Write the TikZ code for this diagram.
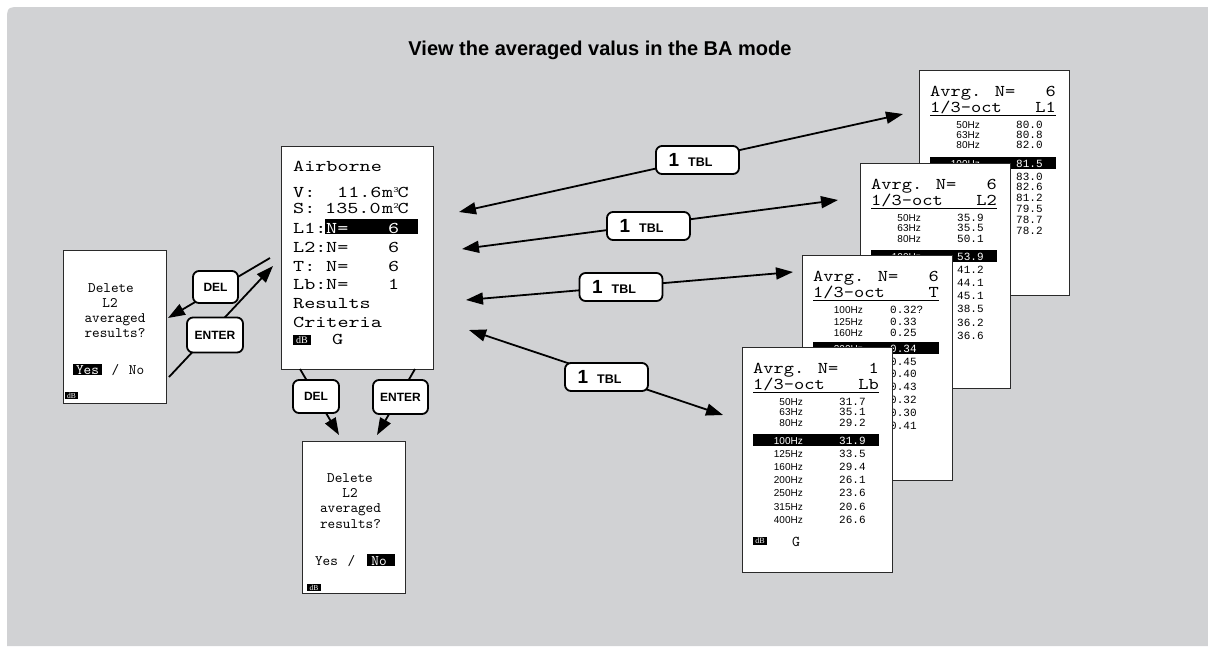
\documentclass[tikz,border=0pt]{standalone}
\usepackage{fontspec}
\setmainfont{Liberation Sans}
\newfontfamily\mono{Liberation Mono}
\newfontfamily\scrW{lmmono10-regular.otf}[FakeStretch=1.28]
\newfontfamily\scrH{lmmono10-regular.otf}[FakeStretch=1.18]
\newfontfamily\scrN{lmmono10-regular.otf}
\newfontfamily\serifx{Liberation Serif}
\usetikzlibrary{arrows.meta}
\definecolor{bg}{HTML}{D1D2D4}
\definecolor{frame}{HTML}{2A2A2A}
\newcommand\fs[1]{\fontsize{#1}{#1}\selectfont}
\tikzset{
  screen/.style={draw=frame, line width=1pt, fill=white, anchor=north west, inner sep=0},
  mt/.style={anchor=base west, inner sep=0, font=\scrW\fs{16.5}},
  dt/.style={anchor=base, inner sep=0, font=\scrN\fs{14.5}},
  hdr/.style={anchor=base west, inner sep=0, font=\scrH\fs{16.5}},
  frq/.style={anchor=base east, inner sep=0, font=\fs{10}},
  val/.style={anchor=base west, inner sep=0, font=\mono\fs{11}},
  dbicon/.style={fill=black, text=white, inner sep=0, font=\serifx\fs{#1}},
  key/.style={draw=black, fill=white, line width=1.8pt, rounded corners=6pt, inner sep=0, font=\bfseries\fs{12}},
  tblkey/.style={key, minimum width=83pt, minimum height=28pt},
  arr/.style={line width=1.8pt, -{Triangle[length=17pt,width=12pt]}},
  dbl/.style={line width=1.8pt, {Triangle[length=17pt,width=12pt]}-{Triangle[length=17pt,width=12pt]}}
}
% \hidefrq=1: frequency labels of rows 5-10 lie behind the next screen
\def\hidefrq{0}
% name, x0, y0, N, channel, list, spacing rows1-3, spacing rows5+, value x
\newcommand\avgscreen[9]{%
 \begin{scope}[shift={(#2,#3)}]
  \node[screen, minimum width=150pt, minimum height=225pt] (#1) at (0,0) {};
  \node[hdr] at (11,26) {Avrg. N=};
  \node[hdr, anchor=base east] at (137,26) {#4};
  \node[hdr] at (11,42) {1/3-oct};
  \node[hdr, anchor=base east] at (137,42) {#5};
  \draw[line width=1.2pt] (11,45.5) -- (137,45.5);
  \fill (11,87) rectangle (137,99);
  \foreach \f/\v [count=\i] in {#6} {
    \pgfmathsetmacro\ry{\i<4 ? 54.5+#7*(\i-1) : (\i==4 ? 93 : 106+#8*(\i-5))}
    \ifnum\i=4 \def\tc{white}\else\def\tc{black}\fi
    \ifnum\i>4 \ifnum\hidefrq=1 \else
      \node[frq, text=\tc] at (61,\ry+4) {\f};
    \fi\else
      \node[frq, text=\tc] at (61,\ry+4) {\f};
    \fi
    \node[val, text=\tc] at (#9,\ry+4) {\v};
  }
 \end{scope}}
\begin{document}
\begin{tikzpicture}[x=1pt,y=-1pt]
\useasboundingbox (0,0) rectangle (1208,646);
\fill[bg] (1208,646) -- (7,646) -- (7,22) .. controls (7,7) .. (22,7) -- (1208,7) -- cycle;

\node[font=\bfseries\fs{20}, anchor=base] (title) at (600,55) {View the averaged valus in the BA mode};

% main screen
\node[screen, minimum width=152pt, minimum height=223pt] (main) at (281,146) {};
\node[mt] (mA) at (293,171) {Airborne};
\node[mt] (mV) at (293,197) {V:};
\node[mt] (mVv) at (337,197) {11.6};
\node[mt] (mVu) at (382,197) {m\raisebox{5pt}{\fs{8}3}\kern-1pt C};
\node[mt] (mS) at (293,213) {S:};
\node[mt] (mSv) at (325,213) {135.0};
\node[mt] (mSu) at (382,213) {m\raisebox{5pt}{\fs{8}2}\kern-1pt C};
\node[mt] (m1) at (293,233) {L1:};
\fill (325,219) rectangle (418,234);
\node[mt, text=white] (m1n) at (326,233) {N=};
\node[mt, text=white] (m1v) at (388,233) {6};
\node[mt] (m2) at (293,252) {L2:};
\node[mt] (m2n) at (326,252) {N=};
\node[mt] (m2v) at (388,252) {6};
\node[mt] (m3) at (293,271) {T:};
\node[mt] (m3n) at (326,271) {N=};
\node[mt] (m3v) at (388,271) {6};
\node[mt] (m4) at (293,289) {Lb:};
\node[mt] (m4n) at (326,289) {N=};
\node[mt] (m4v) at (388,289) {1};
\node[mt] (mR) at (293,308) {Results};
\node[mt] (mC) at (293,327) {Criteria};
\node[dbicon=10, minimum width=18pt, minimum height=10pt] (mdb) at (302,340) {dB};
\node[mt] (mG) at (332,344) {G};

% left delete screen
\node[screen, minimum width=103pt, minimum height=153pt] (delL) at (63,250) {};
\node[dt] (dl1) at (111,292) {Delete};
\node[dt] (dl2) at (110,307) {L2};
\node[dt] (dl3) at (115,322) {averaged};
\node[dt] (dl4) at (115,337) {results?};
\fill (73,364) rectangle (102,375);
\node[dt, text=white] (dl5) at (87.5,374) {Yes};
\node[dt] (dl6) at (115.5,374) {/};
\node[dt] (dl7) at (136.5,374) {No};
\node[dbicon=7.5, minimum width=13pt, minimum height=7pt] (dldb) at (71.5,395.5) {dB};

% bottom delete screen
\node[screen, minimum width=103pt, minimum height=152pt] (delB) at (302,441) {};
\node[dt] (db1) at (350,482) {Delete};
\node[dt] (db2) at (350,497) {L2};
\node[dt] (db3) at (350.5,512) {averaged};
\node[dt] (db4) at (350.5,528) {results?};
\node[dt] (db5) at (326.5,565) {Yes};
\node[dt] (db6) at (351.5,565) {/};
\fill (367,554) rectangle (395,566);
\node[dt, text=white] (db7) at (379,565) {No};
\node[dbicon=7.5, minimum width=14pt, minimum height=7pt] (dbdb) at (314,587.5) {dB};

% averaged screens
\def\hidefrq{1}
\avgscreen{scrL1}{919}{70}{6}{L1}{50Hz/80.0,63Hz/80.8,80Hz/82.0,100Hz/81.5,125Hz/83.0,160Hz/82.6,200Hz/81.2,250Hz/79.5,315Hz/78.7,400Hz/78.2}{10}{10.8}{97}
\avgscreen{scrL2}{860}{163}{6}{L2}{50Hz/35.9,63Hz/35.5,80Hz/50.1,100Hz/53.9,125Hz/41.2,160Hz/44.1,200Hz/45.1,250Hz/38.5,315Hz/36.2,400Hz/36.6}{10.3}{13.3}{97}
\avgscreen{scrT}{802}{255}{6}{T}{100Hz/0.32?,125Hz/0.33,160Hz/0.25,200Hz/0.34,250Hz/0.45,315Hz/0.40,400Hz/0.43,500Hz/0.32,630Hz/0.30,800Hz/0.41}{11.7}{12.8}{88}
\def\hidefrq{0}
\avgscreen{scrLb}{742}{347}{1}{Lb}{50Hz/31.7,63Hz/35.1,80Hz/29.2,100Hz/31.9,125Hz/33.5,160Hz/29.4,200Hz/26.1,250Hz/23.6,315Hz/20.6,400Hz/26.6}{10.3}{13.3}{97}
\node[dbicon=8, minimum width=14pt, minimum height=8pt] (lbdb) at (760,541) {dB};
\node[hdr, font=\scrN\fs{15}] (lbG) at (792,546) {G};

% connector end points
\coordinate (t1a) at (459,212); \coordinate (t1b) at (903,114);
\coordinate (t2a) at (462,249); \coordinate (t2b) at (838,200);
\coordinate (t3a) at (466,300); \coordinate (t3b) at (793,272);
\coordinate (t4a) at (469,330); \coordinate (t4b) at (723,415);
\coordinate (delLa) at (270,258); \coordinate (delLb) at (168,318);
\coordinate (entLa) at (169,377); \coordinate (entLb) at (273,266);
\coordinate (delBa) at (300,369); \coordinate (delBb) at (339,435);
\coordinate (entBa) at (415,369); \coordinate (entBb) at (377,435);

\draw[dbl] (t1a) -- (t1b);
\draw[dbl] (t2a) -- (t2b);
\draw[dbl] (t3a) -- (t3b);
\draw[dbl] (t4a) -- (t4b);
\draw[arr] (delLa) -- (delLb);
\draw[arr] (entLa) -- (entLb);
\draw[arr] (delBa) -- (delBb);
\draw[arr] (entBa) -- (entBb);

% keys
\newcommand\tbltext{{\fs{19}1}\hspace{9pt}{\fs{12.5}TBL}\hspace*{14pt}}
\node[tblkey] (k1) at (697.5,160) {\tbltext};
\node[tblkey] (k2) at (648.5,226) {\tbltext};
\node[tblkey] (k3) at (621,287) {\tbltext};
\node[tblkey] (k4) at (606.5,377) {\tbltext};
\node[key, minimum width=45pt, minimum height=32pt] (kdelL) at (215.5,287) {DEL};
\node[key, minimum width=56pt, minimum height=35pt] (kentL) at (215,335) {ENTER};
\node[key, minimum width=46pt, minimum height=33pt] (kdelB) at (316,396.5) {DEL};
\node[key, minimum width=55pt, minimum height=34pt] (kentB) at (400.5,397) {ENTER};
\end{tikzpicture}
\end{document}
